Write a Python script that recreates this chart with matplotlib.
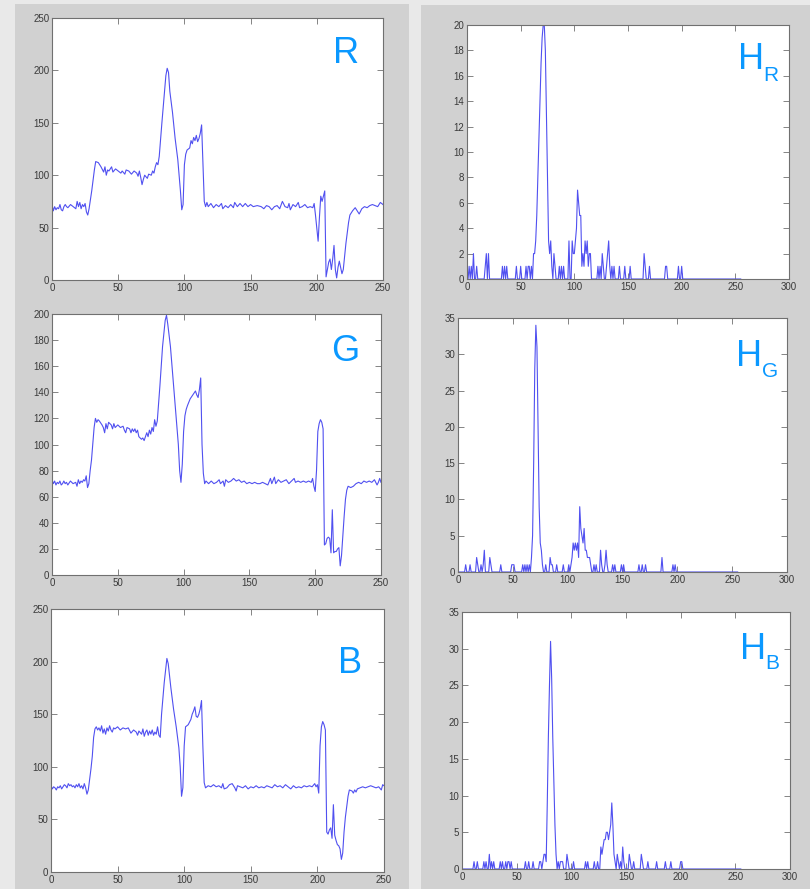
import numpy as np
import matplotlib
matplotlib.use('Agg')
import matplotlib.pyplot as plt
from matplotlib.patches import Rectangle

plt.rcParams['font.family'] = ['Liberation Sans', 'DejaVu Sans']

# Intensity profiles along the scan line (x, value)
profile_r = [(0,72),(1,66),(2,70),(3,67),(4,69),(5,68),(6,72),(7,67),(8,66),(9,70),(10,72),(11,70),(12,69),(14,72),(16,70),(18,68),(19,75),(20,70),(21,74),(22,68),(23,72),(24,70),(25,73),(26,65),(27,62),(28,68),(30,85),(32,105),(33,113),(35,112),(37,108),(39,103),(40,108),(41,100),(42,105),(43,104),(45,108),(46,103),(48,106),(50,104),(52,102),(53,104),(55,101),(56,105),(58,104),(60,101),(62,104),(64,102),(65,99),(66,104),(67,98),(68,91),(69,96),(70,100),(72,97),(73,101),(75,100),(76,104),(77,102),(78,108),(79,112),(80,110),(81,118),(83,150),(85,180),(86,195),(87,202),(88,198),(89,180),(91,160),(93,135),(95,115),(97,85),(98,67),(99,72),(100,110),(101,120),(102,124),(104,126),(105,133),(106,130),(107,136),(108,133),(109,138),(110,132),(111,135),(112,140),(113,148),(114,110),(115,75),(116,70),(117,74),(118,70),(120,73),(122,69),(124,72),(126,70),(128,73),(129,68),(131,71),(133,69),(135,72),(137,69),(138,74),(140,70),(142,73),(144,70),(146,73),(148,70),(150,72),(152,70),(155,71),(158,70),(160,68),(162,71),(164,70),(166,67),(168,70),(170,71),(172,68),(174,75),(176,70),(178,69),(179,73),(180,67),(182,72),(184,70),(186,74),(187,69),(189,70),(191,72),(193,69),(195,70),(197,69),(198,73),(199,62),(200,50),(201,37),(202,60),(203,80),(204,75),(205,80),(206,85),(207,3),(208,10),(209,17),(210,20),(211,10),(212,20),(213,33),(214,10),(215,2),(216,12),(217,18),(218,12),(219,6),(220,10),(222,35),(224,55),(225,62),(227,66),(229,69),(231,65),(232,63),(234,68),(236,70),(238,69),(240,71),(242,72),(244,71),(246,70),(248,74),(250,72)]

profile_g = [(0,73),(1,70),(2,72),(3,69),(4,71),(5,70),(6,72),(7,69),(8,70),(9,72),(10,70),(11,71),(12,69),(14,72),(16,70),(18,71),(19,68),(20,73),(21,70),(22,72),(23,71),(24,73),(25,72),(26,76),(27,67),(28,70),(29,80),(30,88),(31,100),(32,113),(33,120),(34,117),(35,119),(36,118),(38,115),(39,113),(40,109),(41,116),(42,112),(43,117),(45,115),(46,112),(47,116),(48,113),(50,115),(52,113),(54,114),(55,111),(56,109),(57,113),(59,112),(60,109),(61,112),(62,110),(63,112),(64,109),(65,111),(66,106),(68,104),(69,105),(70,103),(71,106),(72,109),(73,106),(74,111),(75,108),(76,113),(77,110),(78,119),(79,114),(80,118),(82,145),(84,175),(86,195),(87,199),(88,192),(90,175),(92,150),(94,125),(96,100),(97,80),(98,71),(99,85),(100,110),(101,122),(102,127),(103,130),(105,135),(107,138),(109,141),(110,138),(111,136),(112,142),(113,151),(114,100),(115,78),(116,70),(117,72),(119,70),(121,72),(123,70),(125,71),(127,73),(128,70),(130,72),(131,68),(132,73),(134,71),(136,72),(138,74),(140,72),(142,73),(144,71),(146,72),(148,70),(150,71),(152,70),(154,71),(156,70),(158,70),(160,71),(162,70),(164,69),(166,74),(167,70),(169,75),(170,70),(172,73),(174,71),(176,72),(178,73),(180,70),(182,72),(184,74),(185,71),(187,72),(189,71),(191,72),(193,71),(195,72),(197,71),(198,74),(199,68),(200,64),(201,80),(202,110),(203,116),(204,119),(205,117),(206,112),(207,23),(208,24),(209,28),(210,29),(211,28),(212,17),(213,50),(214,17),(215,18),(216,18),(217,20),(218,21),(219,7),(220,15),(221,30),(222,45),(223,58),(224,65),(225,68),(227,67),(229,68),(231,70),(233,71),(235,70),(237,72),(239,71),(241,72),(243,71),(245,73),(247,69),(248,71),(249,74),(250,71)]

profile_b = [(0,82),(1,79),(2,81),(3,80),(4,78),(5,81),(6,80),(7,82),(8,79),(9,81),(10,83),(11,82),(12,80),(13,84),(14,82),(15,83),(16,81),(17,82),(18,80),(19,83),(20,81),(21,84),(22,80),(23,82),(24,79),(25,84),(26,80),(27,74),(28,78),(29,88),(30,98),(31,110),(32,128),(33,136),(34,138),(35,135),(36,137),(37,134),(38,139),(39,132),(40,136),(41,131),(42,137),(43,134),(44,139),(45,135),(46,133),(47,137),(48,136),(50,138),(52,135),(54,137),(56,136),(58,137),(60,132),(62,135),(64,133),(65,130),(66,134),(68,131),(69,136),(70,129),(71,133),(72,135),(73,130),(74,134),(75,131),(76,135),(77,130),(78,133),(79,131),(80,138),(81,130),(82,128),(83,150),(85,180),(87,203),(88,198),(90,175),(92,155),(94,138),(96,118),(97,100),(98,72),(99,80),(100,120),(101,138),(103,140),(105,145),(106,150),(107,153),(108,157),(109,148),(110,147),(111,150),(112,155),(113,163),(114,120),(115,85),(116,80),(118,82),(120,81),(122,83),(124,81),(126,82),(128,80),(129,84),(130,79),(132,80),(134,83),(136,84),(138,80),(139,77),(140,82),(142,81),(144,80),(146,82),(148,79),(150,81),(152,80),(154,82),(156,80),(158,81),(160,80),(162,82),(164,81),(166,80),(168,83),(170,81),(172,82),(174,80),(176,83),(178,81),(180,79),(182,82),(184,80),(186,81),(188,80),(190,82),(192,81),(194,82),(196,81),(198,84),(199,81),(200,83),(201,75),(202,120),(203,138),(204,143),(205,140),(206,135),(207,38),(208,36),(209,40),(210,42),(211,32),(212,64),(213,35),(214,30),(215,26),(216,25),(217,22),(218,12),(219,18),(220,38),(221,52),(222,62),(223,72),(224,78),(226,77),(227,75),(228,78),(229,76),(230,79),(232,80),(234,81),(236,80),(238,81),(240,82),(242,81),(244,80),(246,81),(248,78),(249,83),(250,82)]

# Histograms: non-zero bins (0..255) and their counts
hist_r_bins = [0,2,4,6,9,17,18,20,33,35,37,46,50,55,57,58,60,62,63,64,65,66,67,68,69,70,71,72,73,74,75,76,77,78,79,81,82,86,88,90,95,98,99,100,101,102,103,104,105,106,107,108,109,110,111,112,113,114,115,122,124,126,127,130,131,132,133,135,137,142,147,152,165,166,170,185,186,197,200]
hist_r_counts = [1,1,1,2,1,1,2,2,1,1,1,1,1,1,1,1,1,2,2,3,5,8,11,14,17,19,20,20,18,13,8,3,2,3,1,2,1,1,1,1,3,3,2,2,3,4,7,6,5,5,1,2,1,3,2,3,1,2,2,1,1,2,1,1,2,3,1,1,1,1,1,1,2,1,1,1,1,1,1]

hist_g_bins = [7,11,17,18,21,23,24,29,30,39,49,50,51,59,61,63,65,67,68,69,70,71,72,73,74,75,76,77,80,84,85,86,90,96,101,103,104,105,106,107,108,109,110,111,112,113,114,115,116,117,118,119,120,121,124,126,130,131,134,135,136,141,143,149,151,165,168,171,186,196,198]
hist_g_counts = [1,1,2,1,1,1,3,2,1,1,1,1,1,1,1,1,1,2,5,15,28,34,31,20,9,4,3,1,1,2,1,1,1,1,1,1,2,4,3,4,3,4,2,9,6,5,4,6,3,3,2,2,2,1,1,1,3,1,1,3,1,1,1,1,1,1,1,1,2,1,1]

hist_b_bins = [11,14,20,22,25,27,29,35,37,40,42,43,45,58,61,65,71,72,74,75,76,77,78,79,80,81,82,83,84,85,86,88,90,91,92,96,97,102,113,115,121,124,127,128,129,130,131,132,133,134,135,136,137,138,139,140,142,143,145,147,148,153,154,157,164,165,170,178,186,191,200,201]
hist_b_counts = [1,1,1,1,2,1,1,1,1,1,1,1,1,1,1,1,1,1,1,2,2,1,9,18,25,31,26,18,12,6,2,1,1,1,1,2,1,1,1,1,1,1,3,2,3,4,4,5,5,4,5,6,9,6,2,1,2,1,1,3,1,2,1,1,2,1,1,1,1,1,1,1]

W, H = 810, 889
LINE = '#5050f0'
LABEL = '#0a98ff'

fig = plt.figure(figsize=(W / 100, H / 100), dpi=100, facecolor='#e9e9e9')

# grey window frames behind the plots
for x0, y0, x1, y1 in [(15, 4, 409, 889), (421, 5, 810, 889)]:
    fig.patches.append(Rectangle((x0 / W, 1 - y1 / H), (x1 - x0) / W, (y1 - y0) / H,
                                 transform=fig.transFigure, facecolor='#d1d1d1',
                                 edgecolor='none', zorder=-5))


def make_axes(l, t, r, b):
    ax = fig.add_axes([l / W, 1 - b / H, (r - l) / W, (b - t) / H])
    ax.set_facecolor('white')
    for s in ax.spines.values():
        s.set_color('#707070')
        s.set_linewidth(0.8)
    ax.tick_params(direction='in', top=True, right=True, length=4, width=0.6,
                   color='#707070', labelsize=7, labelcolor='#3a3a3a', pad=2)
    return ax


def profile_plot(ax, pts, ymax, ystep):
    x = [p[0] for p in pts]
    y = [p[1] for p in pts]
    ax.plot(x, y, color=LINE, lw=0.8)
    ax.set_xlim(0, 250)
    ax.set_ylim(0, ymax)
    ax.set_xticks(range(0, 251, 50))
    ax.set_yticks(range(0, ymax + 1, ystep))


def hist_plot(ax, bins, counts, ymax, ystep):
    h = np.zeros(256)
    h[bins] = counts
    ax.plot(np.arange(256), h, color=LINE, lw=0.8)
    ax.set_xlim(0, 300)
    ax.set_ylim(0, ymax)
    ax.set_xticks(range(0, 301, 50))
    ax.set_yticks(range(0, ymax + 1, ystep))


ax = make_axes(52, 18, 383, 280)
profile_plot(ax, profile_r, 250, 50)
ax = make_axes(52, 314, 381, 575)
profile_plot(ax, profile_g, 200, 20)
ax = make_axes(51, 609, 384, 872)
profile_plot(ax, profile_b, 250, 50)

ax = make_axes(467, 25, 789, 279)
hist_plot(ax, hist_r_bins, hist_r_counts, 20, 2)
ax = make_axes(458, 318, 787, 572)
hist_plot(ax, hist_g_bins, hist_g_counts, 35, 5)
ax = make_axes(462, 612, 790, 869)
hist_plot(ax, hist_b_bins, hist_b_counts, 35, 5)

# channel labels
for txt, x, y in [('R', 346, 63), ('G', 345, 361), ('B', 350, 673)]:
    fig.text(x / W, 1 - y / H, txt, color=LABEL, fontsize=26, ha='center', va='baseline')

for sub, x, y, sx, sy in [('R', 738, 69, 763, 81), ('G', 736, 366, 762, 377), ('B', 740, 659, 765, 669)]:
    fig.text(x / W, 1 - y / H, 'H', color=LABEL, fontsize=26, ha='left', va='baseline')
    fig.text(sx / W, 1 - sy / H, sub, color=LABEL, fontsize=15, ha='left', va='baseline')

fig.savefig('out.png', dpi=100, facecolor=fig.get_facecolor())
